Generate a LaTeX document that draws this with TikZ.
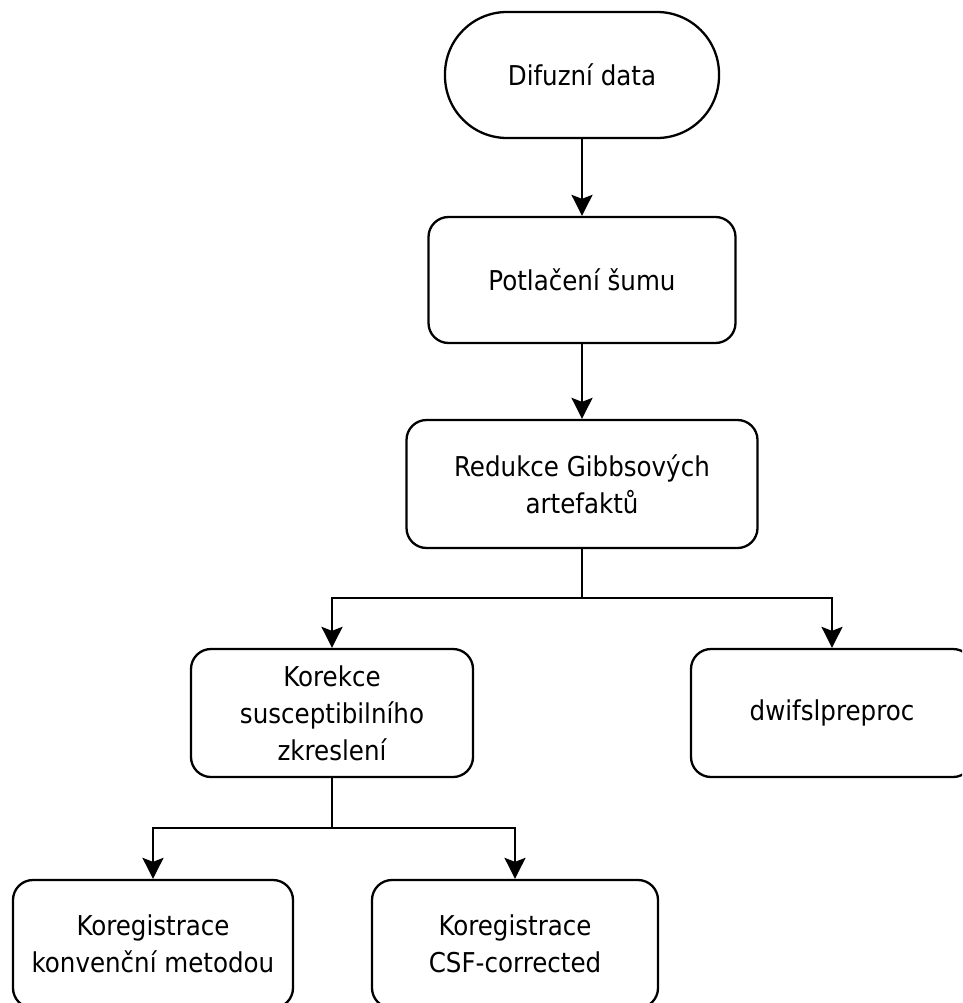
\documentclass[tikz,border=0pt]{standalone}
\usepackage{fontspec}
\setmainfont{DejaVu Sans Condensed}
\usetikzlibrary{arrows.meta}
\begin{document}
\begin{tikzpicture}[x=1pt,y=-1pt,
  box/.style={draw=black, line width=2.3pt, rounded corners=20pt, align=center,
    inner sep=0pt, font=\fontsize{27.3}{37}\selectfont},
  term/.style={draw=black, line width=2.3pt, rounded corners=62pt, align=center,
    inner sep=0pt, font=\fontsize{27.3}{37}\selectfont},
  conn/.style={line width=2.3pt, draw=black},
  arr/.style={conn, -{Stealth[length=21pt, width=21pt, inset=4pt]}}]
\useasboundingbox (0,0) rectangle (962,1003);
\clip (0,0) rectangle (962,1003);
\node[term, minimum width=274pt, minimum height=126pt] (d) at (582,75) {Difuzní data};
\node[box, minimum width=307pt, minimum height=126pt] (p) at (582,280) {Potlačení šumu};
\node[box, minimum width=351pt, minimum height=128pt] (r) at (582,484) {Redukce Gibbsových\\artefaktů};
\node[box, minimum width=282pt, minimum height=128pt] (k) at (332,713) {Korekce\\susceptibilního\\zkreslení};
\node[box, minimum width=282pt, minimum height=128pt] (w) at (832,713) {dwifslpreproc};
\node[box, minimum width=280pt, minimum height=128pt] (a) at (153,944) {Koregistrace\\konvenční metodou};
\node[box, minimum width=286pt, minimum height=128pt] (b) at (515,944) {Koregistrace\\CSF-corrected};
\coordinate (f1) at (582,598);
\coordinate (f2) at (332,828);
\draw[arr] (d.south) -- (p.north);
\draw[arr] (p.south) -- (r.north);
\draw[conn] (r.south) -- (f1);
\draw[arr] (f1) -| (k.north);
\draw[arr] (f1) -| (w.north);
\draw[conn] (k.south) -- (f2);
\draw[arr] (f2) -| (a.north);
\draw[arr] (f2) -| (b.north);
\end{tikzpicture}
\end{document}
